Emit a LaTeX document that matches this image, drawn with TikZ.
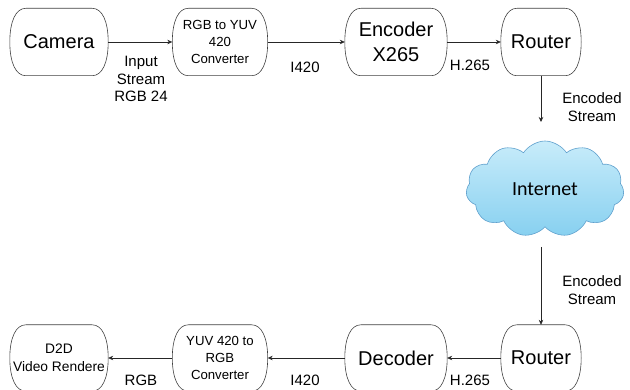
\documentclass[tikz,border=0pt]{standalone}
\usepackage{fontspec}
\setmainfont{Liberation Sans}
\newfontfamily\cloudfont{Carlito}
\usetikzlibrary{arrows.meta,shapes.symbols}
\definecolor{cloudtop}{RGB}{200,236,250}
\definecolor{cloudbot}{RGB}{135,208,240}
\definecolor{cloudedge}{RGB}{95,160,205}
\newcommand\roundbox[1]{%
  \draw[outline] ([xshift=16pt]#1.north west) -- ([xshift=-16pt]#1.north east)
    .. controls ([xshift=-6pt]#1.north east) and ([yshift=-13pt]#1.north east) .. (#1.east)
    .. controls ([yshift=13pt]#1.south east) and ([xshift=-6pt]#1.south east) .. ([xshift=-16pt]#1.south east)
    -- ([xshift=16pt]#1.south west)
    .. controls ([xshift=6pt]#1.south west) and ([yshift=13pt]#1.south west) .. (#1.west)
    .. controls ([yshift=-13pt]#1.north west) and ([xshift=6pt]#1.north west) .. cycle;}
\begin{document}
\begin{tikzpicture}[x=1pt,y=-1pt,
  box/.style={align=center, inner sep=0pt},
  outline/.style={draw=black!75, line width=0.6pt},
  big/.style={font=\fontsize{20}{25}\selectfont},
  small/.style={font=\fontsize{13.2}{16.8}\selectfont},
  lab/.style={font=\fontsize{15}{17.5}\selectfont, align=center, inner sep=0pt},
  conn/.style={draw=black!85, line width=0.6pt, -{Stealth[length=5pt,width=4.5pt]}}]
\useasboundingbox (0,0) rectangle (630,390);
% top row
\node[box,big,minimum width=98pt,minimum height=67pt] (cam) at (59,42) {Camera};
\node[box,small,minimum width=95pt,minimum height=67pt] (conv1) at (220,42) {RGB to YUV\\420\\Converter};
\node[box,big,minimum width=102pt,minimum height=67pt] (enc) at (396,42) {Encoder\\X265};
\node[box,big,minimum width=80pt,minimum height=67pt] (r1) at (541,42) {Router};
% cloud
\node[cloud, cloud puffs=11, cloud puff arc=115, aspect=1.6, draw=cloudedge, line width=0.6pt,
      top color=cloudtop, bottom color=cloudbot, minimum width=158pt, minimum height=96pt,
      inner sep=0pt, font=\cloudfont\fontsize{20}{24}\selectfont] (net) at (545,189) {Internet};
% bottom row
\node[box,big,minimum width=80pt,minimum height=66pt] (r2) at (541,358) {Router};
\node[box,big,minimum width=102pt,minimum height=66pt] (dec) at (396,358) {Decoder};
\node[box,small,minimum width=95pt,minimum height=66pt] (conv2) at (220,358) {YUV 420 to\\RGB\\Converter};
\node[box,font=\fontsize{13.8}{17.5}\selectfont,minimum width=98pt,minimum height=66pt] (d2d) at (59,358) {D2D\\Video Rendere};
\foreach \n in {cam,conv1,enc,r1,r2,dec,conv2,d2d} {\roundbox{\n}}
% connectors
\draw[conn] (cam) -- (conv1);
\draw[conn] (conv1) -- (enc);
\draw[conn] (enc) -- (r1);
\coordinate (e1) at (541,122);
\draw[conn] (r1.south) -- (e1);
\coordinate (s2) at (541,247);
\draw[conn] (s2) -- (r2.north);
\draw[conn] (r2) -- (dec);
\draw[conn] (dec) -- (conv2);
\draw[conn] (conv2) -- (d2d);
% labels
\node[lab] (l1) at (141,79) {Input\\Stream\\RGB 24};
\node[lab] (l2) at (305,67) {I420};
\node[lab] (l3) at (470,65) {H.265};
\node[lab] (l4) at (592,107) {Encoded\\Stream};
\node[lab] (l5) at (592,290) {Encoded\\Stream};
\node[lab] (l6) at (141,380) {RGB};
\node[lab] (l7) at (305,380) {I420};
\node[lab] (l8) at (470,380) {H.265};
\end{tikzpicture}
\end{document}
